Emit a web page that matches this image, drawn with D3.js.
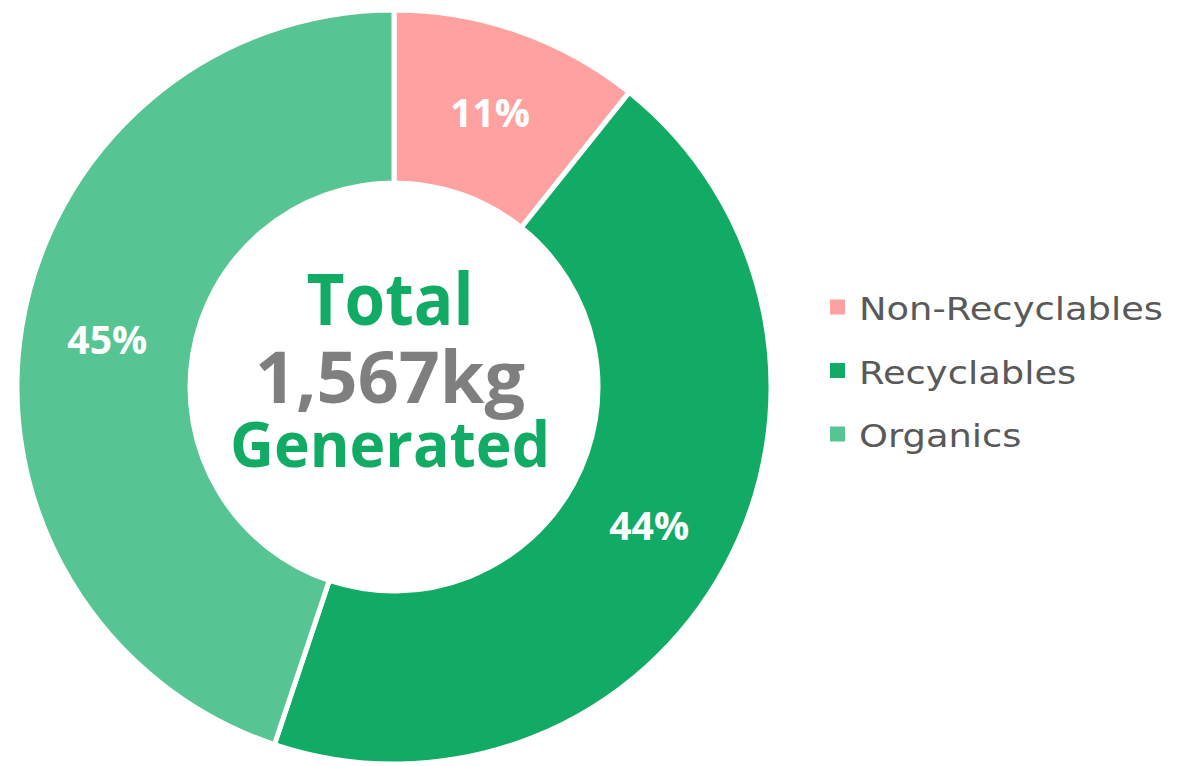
<!DOCTYPE html>
<html>
<head>
<meta charset="utf-8">
<script src="https://cdn.jsdelivr.net/npm/d3@7"></script>
<style>
  html, body { margin: 0; padding: 0; background: #ffffff; }
  svg { display: block; }
</style>
</head>
<body>
<svg id="chart" width="1180" height="766"></svg>
<script>
// ---- data ----
const categories = ["Non-Recyclables", "Recyclables", "Organics"];
const valuesKg = [168, 696, 703];
const percentLabels = ["11%", "44%", "45%"];
const colors = ["#FFA1A1", "#12AB66", "#57C493"];
const centerLines = ["Total", "1,567kg", "Generated"];

// ---- layout ----
const svg = d3.select("#chart");
const cx = 394, cy = 387;
const outerR = 377, innerR = 204;

const data = categories.map((c, i) => ({ name: c, value: valuesKg[i], label: percentLabels[i], color: colors[i] }));

const pie = d3.pie().value(d => d.value).sort(null);
const arc = d3.arc().innerRadius(innerR).outerRadius(outerR);

const g = svg.append("g").attr("transform", `translate(${cx},${cy})`);

const arcs = pie(data);
g.selectAll("path.slice")
  .data(arcs)
  .join("path")
  .attr("class", "slice")
  .attr("d", arc)
  .attr("fill", d => d.data.color)
  .attr("stroke", "#ffffff")
  .attr("stroke-width", 5)
  .attr("stroke-linejoin", "miter");

g.selectAll("text.pct")
  .data(arcs)
  .join("text")
  .attr("class", "pct")
  .attr("x", d => arc.centroid(d)[0])
  .attr("y", d => arc.centroid(d)[1])
  .attr("dy", "0.36em")
  .attr("text-anchor", "middle")
  .attr("font-family", "'Open Sans', Lato, sans-serif")
  .attr("font-weight", 700)
  .attr("font-size", 39)
  .attr("fill", "#ffffff")
  .attr("textLength", 80)
  .attr("lengthAdjust", "spacingAndGlyphs")
  .text(d => d.data.label);

// ---- center text ----
const centerSpec = [
  { dy: -62, color: "#12AB66", width: 167, size: 71 },
  { dy: 16, color: "#7F7F7F", width: 270, size: 72 },
  { dy: 80, color: "#12AB66", width: 320, size: 62 }
];
g.selectAll("text.center")
  .data(centerLines)
  .join("text")
  .attr("class", "center")
  .attr("x", -4)
  .attr("y", (d, i) => centerSpec[i].dy)
  .attr("text-anchor", "middle")
  .attr("font-family", "'Open Sans', Lato, sans-serif")
  .attr("font-weight", 700)
  .attr("font-size", (d, i) => centerSpec[i].size)
  .attr("fill", (d, i) => centerSpec[i].color)
  .attr("textLength", (d, i) => centerSpec[i].width)
  .attr("lengthAdjust", "spacingAndGlyphs")
  .text(d => d);

// ---- legend ----
const legendY = d3.scalePoint().domain(categories).range([307, 434]);
const legend = svg.append("g");
const items = legend.selectAll("g.item")
  .data(data)
  .join("g")
  .attr("class", "item")
  .attr("transform", d => `translate(830,${legendY(d.name)})`);

items.append("rect")
  .attr("x", 0)
  .attr("y", -7.5)
  .attr("width", 15)
  .attr("height", 15)
  .attr("fill", d => d.color);

const legendTexts = items.append("text")
  .attr("x", 29)
  .attr("y", 13)
  .attr("font-family", "'DejaVu Sans', sans-serif")
  .attr("font-size", 32)
  .attr("fill", "#595959")
  .text(d => d.name);

// stretch legend text horizontally to match the wide geometric face of the original
const natural = legendTexts.nodes()[0].getComputedTextLength();
const factor = 304 / natural;
legendTexts.each(function () {
  const w = this.getComputedTextLength();
  d3.select(this).attr("textLength", w * factor).attr("lengthAdjust", "spacingAndGlyphs");
});
</script>
</body>
</html>
